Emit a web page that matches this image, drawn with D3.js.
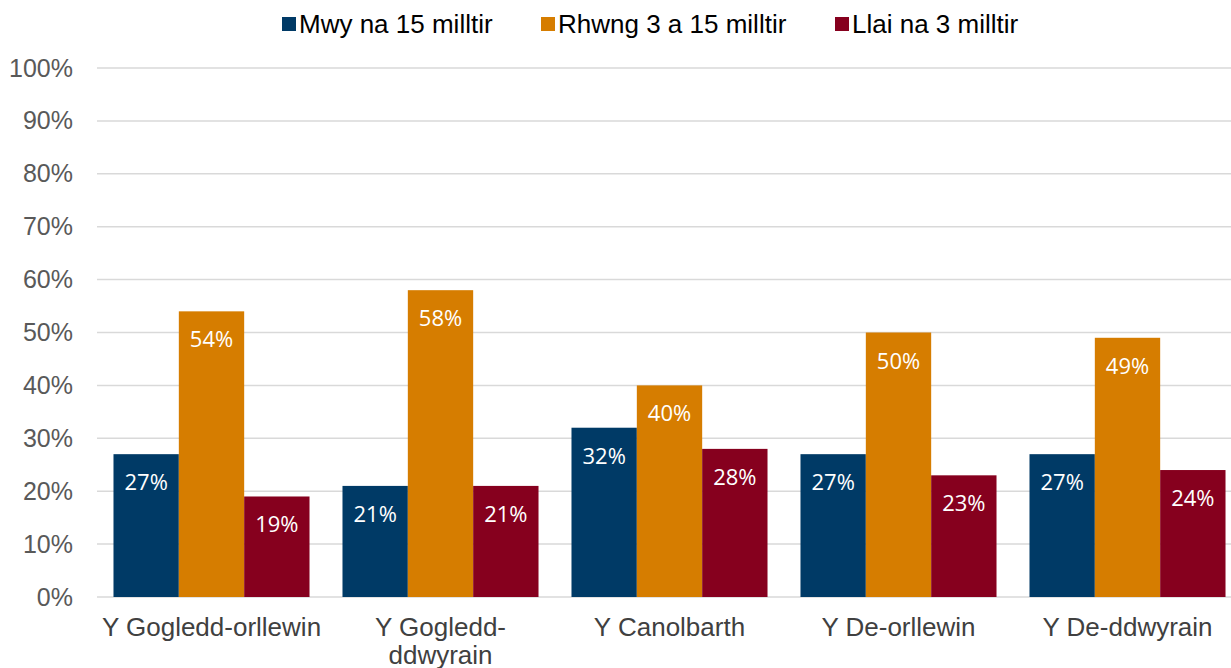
<!DOCTYPE html>
<html>
<head>
<meta charset="utf-8">
<script src="https://cdn.jsdelivr.net/npm/d3@7"></script>
<style>
  body { margin: 0; background: #fff; }
  svg { display: block; }
</style>
</head>
<body>
<svg id="chart" width="1231" height="668"></svg>
<script>
// data
const regions = ["Y Gogledd-orllewin", "Y Gogledd-ddwyrain", "Y Canolbarth", "Y De-orllewin", "Y De-ddwyrain"];
const seriesNames = ["Mwy na 15 milltir", "Rhwng 3 a 15 milltir", "Llai na 3 milltir"];
const over15 = [27, 21, 32, 27, 27];
const between3and15 = [54, 58, 40, 50, 49];
const under3 = [19, 21, 28, 23, 24];
const yTicks = [0, 10, 20, 30, 40, 50, 60, 70, 80, 90, 100];
const colors = ["#003a66", "#d67d00", "#86001e"];

const seriesValues = [over15, between3and15, under3];

const svg = d3.select("#chart");

const xScale = d3.scaleBand()
  .domain(regions)
  .range([97, 1242])
  .paddingInner(0.144)
  .paddingOuter(0.072);

const xSub = d3.scaleBand()
  .domain(seriesNames)
  .range([0, xScale.bandwidth()]);

const yScale = d3.scaleLinear()
  .domain([0, 100])
  .range([597, 68]);

// gridlines
svg.append("g")
  .selectAll("line")
  .data(yTicks)
  .join("line")
  .attr("x1", 97)
  .attr("x2", 1231)
  .attr("y1", d => yScale(d))
  .attr("y2", d => yScale(d))
  .attr("stroke", "#d9d9d9")
  .attr("stroke-width", 1.5);

// y axis labels
const yAxis = d3.axisLeft(yScale)
  .tickValues(yTicks)
  .tickFormat(d => d + "%")
  .tickSize(0)
  .tickPadding(0);

svg.append("g")
  .attr("transform", "translate(73,0)")
  .call(yAxis)
  .call(g => g.select(".domain").remove())
  .selectAll("text")
  .attr("font-family", "Liberation Sans, Arial, sans-serif")
  .attr("font-size", 25)
  .attr("fill", "#595959");

// bars
const groups = svg.append("g")
  .selectAll("g")
  .data(regions)
  .join("g")
  .attr("transform", d => `translate(${xScale(d)},0)`);

groups.selectAll("rect")
  .data((d, i) => seriesNames.map((s, j) => ({ series: s, value: seriesValues[j][i], idx: j })))
  .join("rect")
  .attr("x", d => xSub(d.series))
  .attr("width", xSub.bandwidth())
  .attr("y", d => yScale(d.value))
  .attr("height", d => yScale(0) - yScale(d.value))
  .attr("fill", d => colors[d.idx]);

groups.selectAll("text")
  .data((d, i) => seriesNames.map((s, j) => ({ series: s, value: seriesValues[j][i], idx: j })))
  .join("text")
  .attr("x", d => xSub(d.series) + xSub.bandwidth() / 2)
  .attr("y", d => yScale(d.value) + 36)
  .attr("text-anchor", "middle")
  .attr("font-family", "Open Sans, sans-serif")
  .attr("font-size", 22)
  .attr("fill", "#fff")
  .text(d => d.value + "%");

// x axis labels (wrap the long one)
const xLabelLines = {
  "Y Gogledd-ddwyrain": ["Y Gogledd-", "ddwyrain"]
};

svg.append("g")
  .selectAll("text")
  .data(regions)
  .join("text")
  .attr("x", d => xScale(d) + xScale.bandwidth() / 2)
  .attr("y", 636)
  .attr("text-anchor", "middle")
  .attr("font-family", "Liberation Sans, Arial, sans-serif")
  .attr("font-size", 26)
  .attr("fill", "#404040")
  .each(function(d) {
    const lines = xLabelLines[d] || [d];
    d3.select(this).selectAll("tspan")
      .data(lines)
      .join("tspan")
      .attr("x", xScale(d) + xScale.bandwidth() / 2)
      .attr("dy", (l, i) => i === 0 ? 0 : 28)
      .text(l => l);
  });

// legend
const legendX = [282, 541, 835];
const legend = svg.append("g")
  .selectAll("g")
  .data(seriesNames)
  .join("g")
  .attr("transform", (d, i) => `translate(${legendX[i]},0)`);

legend.append("rect")
  .attr("x", 0)
  .attr("y", 17)
  .attr("width", 14)
  .attr("height", 14)
  .attr("fill", (d, i) => colors[i]);

legend.append("text")
  .attr("x", 17)
  .attr("y", 33)
  .attr("font-family", "Liberation Sans, Arial, sans-serif")
  .attr("font-size", 26)
  .attr("fill", "#000")
  .text(d => d);
</script>
</body>
</html>
